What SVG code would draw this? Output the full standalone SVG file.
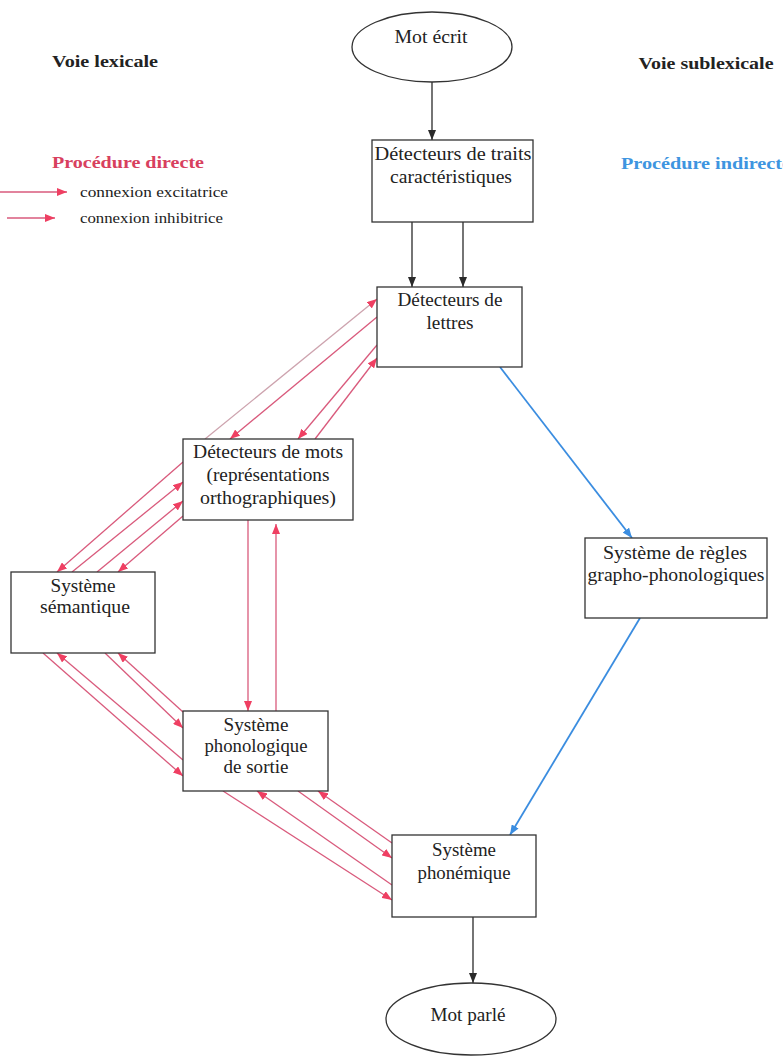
<svg xmlns="http://www.w3.org/2000/svg" width="783" height="1057" viewBox="0 0 783 1057">
<style>
.bg{fill:#ffffff}
.box{fill:#ffffff;stroke:#333333;stroke-width:1.3}
.t{font-family:"Liberation Serif","Times New Roman",serif;font-size:18px;fill:#222222;text-anchor:middle}
.h{font-family:"Liberation Serif","Times New Roman",serif;font-size:17px;font-weight:bold;fill:#222222;text-anchor:middle}
.lg{font-family:"Liberation Serif","Times New Roman",serif;font-size:14px;fill:#222222}
.blk{stroke:#2a2a2a;stroke-width:1.3;fill:none;marker-end:url(#ab)}
.blu{stroke:#3b8de0;stroke-width:1.8;fill:none;marker-end:url(#au)}
.red{stroke:#d95a7c;stroke-width:1.3;fill:none;marker-end:url(#ar)}
.pale{stroke:#cda3ae;stroke-width:1.3;fill:none;marker-end:url(#ar)}
</style>
<defs>
<marker id="ab" viewBox="0 0 10 8" refX="10" refY="4" markerWidth="10" markerHeight="8" markerUnits="userSpaceOnUse" orient="auto"><path d="M0,0 L10,4 L0,8 z" fill="#2a2a2a"/></marker>
<marker id="au" viewBox="0 0 10 8" refX="10" refY="4" markerWidth="10" markerHeight="8" markerUnits="userSpaceOnUse" orient="auto"><path d="M0,0 L10,4 L0,8 z" fill="#3b8de0"/></marker>
<marker id="ar" viewBox="0 0 10 8" refX="10" refY="4" markerWidth="10" markerHeight="8" markerUnits="userSpaceOnUse" orient="auto"><path d="M0,0 L10,4 L0,8 z" fill="#ef3f62"/></marker>
</defs>
<rect class="bg" x="0" y="0" width="783" height="1057"/>

<g id="labels">
<text class="h" x="105" y="67" textLength="106" lengthAdjust="spacingAndGlyphs">Voie lexicale</text>
<text class="h" x="706" y="69" textLength="135" lengthAdjust="spacingAndGlyphs">Voie sublexicale</text>
<text class="h" x="128" y="168" style="fill:#d8405e" textLength="152" lengthAdjust="spacingAndGlyphs">Procédure directe</text>
<text class="h" x="621" y="169" style="fill:#3e95e0;text-anchor:start" textLength="170" lengthAdjust="spacingAndGlyphs">Procédure indirecte</text>
</g>

<g id="legend">
<line class="red" x1="0" y1="192" x2="67" y2="192"/>
<line class="red" x1="7" y1="218" x2="55" y2="218"/>
<text class="lg" x="80" y="197" textLength="148" lengthAdjust="spacingAndGlyphs">connexion excitatrice</text>
<text class="lg" x="80" y="223" textLength="143" lengthAdjust="spacingAndGlyphs">connexion inhibitrice</text>
</g>

<g id="connectors">
<line class="blk" x1="432" y1="82" x2="432" y2="140"/>
<line class="blk" x1="412" y1="222" x2="412" y2="287"/>
<line class="blk" x1="463" y1="222" x2="463" y2="287"/>
<line class="blk" x1="473" y1="917" x2="473" y2="983"/>
<line class="blu" x1="500" y1="367" x2="632" y2="538"/>
<line class="blu" x1="640" y1="618" x2="510" y2="835"/>
<line class="pale" x1="205" y1="439" x2="377" y2="299"/>
<line class="red" x1="377" y1="317" x2="230" y2="439"/>
<line class="red" x1="377" y1="345" x2="298" y2="439"/>
<line class="red" x1="315" y1="439" x2="377" y2="358"/>
<line class="red" x1="183" y1="462" x2="57" y2="572"/>
<line class="red" x1="72" y1="572" x2="183" y2="482"/>
<line class="red" x1="97" y1="572" x2="183" y2="501"/>
<line class="red" x1="183" y1="516" x2="118" y2="572"/>
<line class="red" x1="248" y1="520" x2="248" y2="711"/>
<line class="red" x1="276" y1="711" x2="276" y2="524"/>
<line class="red" x1="43" y1="653" x2="183" y2="776"/>
<line class="red" x1="183" y1="760" x2="57" y2="653"/>
<line class="red" x1="105" y1="653" x2="183" y2="728"/>
<line class="red" x1="183" y1="712" x2="118" y2="653"/>
<line class="red" x1="223" y1="791" x2="392" y2="900"/>
<line class="red" x1="392" y1="885" x2="257" y2="791"/>
<line class="red" x1="298" y1="791" x2="392" y2="858"/>
<line class="red" x1="392" y1="843" x2="318" y2="791"/>
</g>

<g id="mot-ecrit">
<ellipse class="box" cx="432" cy="47" rx="80" ry="35"/>
<text class="t" x="431" y="43" textLength="73" lengthAdjust="spacingAndGlyphs">Mot écrit</text>
</g>

<g id="detecteurs-traits">
<rect class="box" x="372" y="140" width="161" height="82"/>
<text class="t" x="453" y="160" textLength="157" lengthAdjust="spacingAndGlyphs">Détecteurs de traits</text>
<text class="t" x="451" y="183" textLength="122" lengthAdjust="spacingAndGlyphs">caractéristiques</text>
</g>

<g id="detecteurs-lettres">
<rect class="box" x="377" y="287" width="145" height="80"/>
<text class="t" x="450" y="306" textLength="105" lengthAdjust="spacingAndGlyphs">Détecteurs de</text>
<text class="t" x="450" y="329" textLength="47" lengthAdjust="spacingAndGlyphs">lettres</text>
</g>

<g id="detecteurs-mots">
<rect class="box" x="183" y="439" width="170" height="81"/>
<text class="t" x="268" y="458" textLength="150" lengthAdjust="spacingAndGlyphs">Détecteurs de mots</text>
<text class="t" x="268" y="481" textLength="123" lengthAdjust="spacingAndGlyphs">(représentations</text>
<text class="t" x="268" y="504" textLength="136" lengthAdjust="spacingAndGlyphs">orthographiques)</text>
</g>

<g id="systeme-semantique">
<rect class="box" x="11" y="572" width="144" height="81"/>
<text class="t" x="83" y="592" textLength="65" lengthAdjust="spacingAndGlyphs">Système</text>
<text class="t" x="85" y="613" textLength="90" lengthAdjust="spacingAndGlyphs">sémantique</text>
</g>

<g id="systeme-phonologique">
<rect class="box" x="183" y="711" width="145" height="80"/>
<text class="t" x="256" y="731" textLength="65" lengthAdjust="spacingAndGlyphs">Système</text>
<text class="t" x="256" y="752" textLength="103" lengthAdjust="spacingAndGlyphs">phonologique</text>
<text class="t" x="256" y="773" textLength="65" lengthAdjust="spacingAndGlyphs">de sortie</text>
</g>

<g id="regles">
<rect class="box" x="585" y="538" width="182" height="80"/>
<text class="t" x="675" y="559" textLength="144" lengthAdjust="spacingAndGlyphs">Système de règles</text>
<text class="t" x="676" y="581" textLength="177" lengthAdjust="spacingAndGlyphs">grapho-phonologiques</text>
</g>

<g id="systeme-phonemique">
<rect class="box" x="392" y="835" width="144" height="82"/>
<text class="t" x="464" y="856" textLength="64" lengthAdjust="spacingAndGlyphs">Système</text>
<text class="t" x="464" y="879" textLength="93" lengthAdjust="spacingAndGlyphs">phonémique</text>
</g>

<g id="mot-parle">
<ellipse class="box" cx="471" cy="1019" rx="85" ry="36"/>
<text class="t" x="468" y="1021" textLength="75" lengthAdjust="spacingAndGlyphs">Mot parlé</text>
</g>
</svg>
